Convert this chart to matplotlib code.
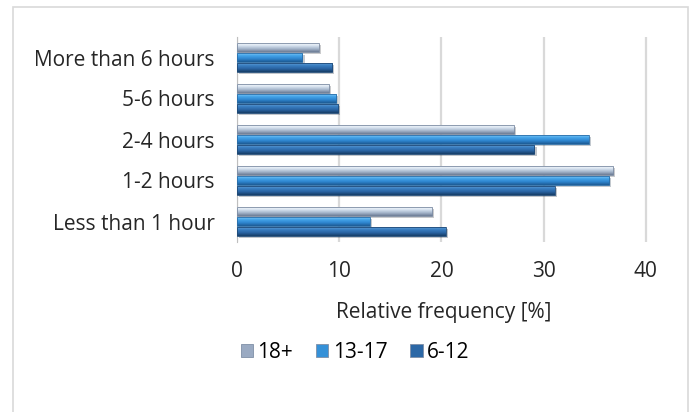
import numpy as np
import matplotlib
matplotlib.use("Agg")
import matplotlib.pyplot as plt
from matplotlib.colors import LinearSegmentedColormap
from matplotlib.patches import Patch, Rectangle
import matplotlib.patheffects as pe

plt.rcParams['font.family'] = ['Open Sans', 'DejaVu Sans']

categories = ["More than 6 hours", "5-6 hours", "2-4 hours", "1-2 hours", "Less than 1 hour"]
groups = ["18+", "13-17", "6-12"]
adults = [8.0, 9.0, 27.1, 36.8, 19.1]
teens = [6.4, 9.7, 34.4, 36.4, 13.0]
children = [9.3, 9.9, 29.1, 31.1, 20.4]
xticks = [0, 10, 20, 30, 40]

# top -> bottom shading of each bar series
shades = {
    "18+": ["#ffffff", "#dbe6f2", "#a7b7cd", "#6b7b94"],
    "13-17": ["#9ed8fb", "#45a5ea", "#2f86d0", "#1c5a93"],
    "6-12": ["#74acdc", "#3a7fc2", "#2a64a3", "#163d66"],
}
mid_colors = {"18+": "#9aaac2", "13-17": "#3591d8", "6-12": "#2c68a6"}
edge_colors = {"18+": "#7d8ca3", "13-17": "#2a6ea8", "6-12": "#1f4a78"}
text_color = "#262626"

fig = plt.figure(figsize=(6.93, 4.12), dpi=100)
fig.patches.append(Rectangle((13 / 693, -0.05), 675 / 693, 1.05 - 7 / 412,
                             transform=fig.transFigure, fill=False,
                             edgecolor="#d9d9d9", linewidth=1.2))
ax = fig.add_axes([237 / 693, 1 - 242 / 412, 413 / 693, 205 / 412])

y = np.arange(len(categories))
pitch = 0.25
height = 0.225
series = [adults, teens, children]
grad = np.linspace(0, 1, 64).reshape(-1, 1)

for i, (name, vals) in enumerate(zip(groups, series)):
    offs = y + (i - 1) * pitch
    bars = ax.barh(offs, vals, height=height, color=mid_colors[name], zorder=3,
                   path_effects=[pe.SimplePatchShadow(offset=(1.5, -1.5), alpha=0.25),
                                 pe.Normal()])
    cmap = LinearSegmentedColormap.from_list(name, shades[name])
    for b in bars:
        x0, y0 = b.get_x(), b.get_y()
        w, h = b.get_width(), b.get_height()
        im = ax.imshow(grad, cmap=cmap, aspect='auto', interpolation='bilinear',
                       extent=(x0, x0 + w, y0 + h, y0), zorder=4)
        im.set_clip_path(b)
        ax.add_patch(Rectangle((x0, y0), w, h, fill=False, edgecolor=edge_colors[name],
                               linewidth=0.6, zorder=5))

ax.set_xlim(0, 40.4)
ax.set_ylim(len(categories) - 0.5, -0.5)
ax.set_yticks(y)
ax.set_yticklabels(categories, fontsize=15, color=text_color)
ax.set_xticks(xticks)
ax.set_xticklabels([str(t) for t in xticks], fontsize=15, color=text_color)
ax.tick_params(axis='both', length=0)
ax.tick_params(axis='x', pad=14)
ax.tick_params(axis='y', pad=16)
ax.xaxis.grid(True, color="#d9d9d9", linewidth=1.6, zorder=0)
ax.set_axisbelow(True)
for s in ["top", "right", "bottom"]:
    ax.spines[s].set_visible(False)
ax.spines["left"].set_color("#bfbfbf")
ax.set_xlabel("Relative frequency [%]", fontsize=15, color=text_color, labelpad=14)

handles = [Patch(facecolor=mid_colors[g], edgecolor="#7f8fa6", linewidth=0.6) for g in groups]
fig.legend(handles, groups, loc="center", bbox_to_anchor=(355 / 693, 1 - 352 / 412),
           ncol=3, frameon=False, fontsize=15, handlelength=0.6, handleheight=0.6,
           handletextpad=0.2, columnspacing=1.1)

fig.savefig("out.png", dpi=100)
